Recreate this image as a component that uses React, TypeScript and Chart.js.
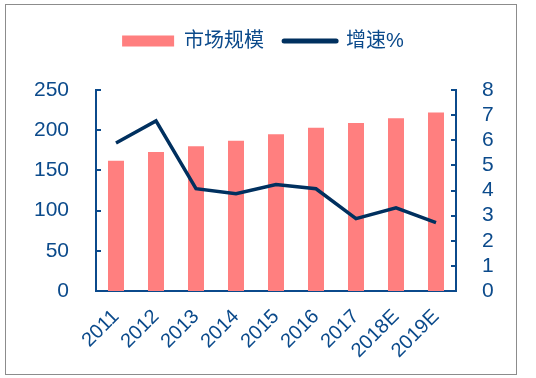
import React, { useEffect, useRef } from 'react';
import { Chart, registerables } from 'chart.js';

Chart.register(...registerables);

const categories = ['2011', '2012', '2013', '2014', '2015', '2016', '2017', '2018E', '2019E'];
const marketSize = [162, 173, 180, 187, 195, 203, 209, 215, 222];
const growthRate = [5.89, 6.77, 4.07, 3.87, 4.24, 4.07, 2.88, 3.31, 2.72];
const seriesNames = ['市场规模', '增速%'];
const leftAxisMax = 250;
const leftAxisStep = 50;
const rightAxisMax = 8;
const rightAxisStep = 1;

const AXIS = '#0B4A8B';
const TEXT = '#0B4A8B';
const BAR = '#FF7F7F';
const LINE = '#00305F';
const FONT = "'Liberation Sans', 'Noto Sans CJK SC', Arial, sans-serif";

const innerTicks = {
  id: 'innerTicks',
  afterDraw(chart: any) {
    const { ctx, chartArea } = chart;
    const yl = chart.scales.y;
    const yr = chart.scales.y1;
    ctx.save();
    ctx.strokeStyle = AXIS;
    ctx.lineWidth = 2;
    yl.ticks.forEach((t: any) => {
      const y = Math.round(yl.getPixelForValue(t.value));
      ctx.beginPath();
      ctx.moveTo(chartArea.left, y);
      ctx.lineTo(chartArea.left + 5, y);
      ctx.stroke();
    });
    yr.ticks.forEach((t: any) => {
      const y = Math.round(yr.getPixelForValue(t.value));
      ctx.beginPath();
      ctx.moveTo(chartArea.right - 5, y);
      ctx.lineTo(chartArea.right, y);
      ctx.stroke();
    });
    ctx.restore();
  },
};

export default function App() {
  const ref = useRef<HTMLCanvasElement>(null);

  useEffect(() => {
    if (!ref.current) return;
    const chart = new Chart(ref.current, {
      type: 'bar',
      data: {
        labels: categories,
        datasets: [
          {
            type: 'bar',
            label: seriesNames[0],
            data: marketSize,
            backgroundColor: BAR,
            yAxisID: 'y',
            barPercentage: 0.4,
            categoryPercentage: 1,
            order: 2,
          } as any,
          {
            type: 'line',
            label: seriesNames[1],
            data: growthRate,
            borderColor: LINE,
            backgroundColor: LINE,
            borderWidth: 3.5,
            pointRadius: 0,
            tension: 0,
            yAxisID: 'y1',
            borderJoinStyle: 'miter',
            order: 1,
          } as any,
        ],
      },
      options: {
        responsive: false,
        animation: false,
        devicePixelRatio: 1,
        layout: { padding: { top: 11, left: 0, right: 10, bottom: 0 } },
        plugins: {
          tooltip: { enabled: false },
          title: {
            display: true,
            text: '',
            weight: 500,
            padding: 0,
            font: { size: 29, lineHeight: 1 },
          } as any,
          legend: {
            position: 'top',
            labels: {
              usePointStyle: true,
              pointStyleWidth: 52,
              boxHeight: 11,
              padding: 20,
              color: TEXT,
              font: { size: 20, family: FONT },
              generateLabels: () => [
                {
                  text: seriesNames[0],
                  fillStyle: BAR,
                  strokeStyle: BAR,
                  lineWidth: 0,
                  pointStyle: 'rect',
                  datasetIndex: 0,
                  hidden: false,
                  fontColor: TEXT,
                } as any,
                {
                  text: seriesNames[1],
                  fillStyle: LINE,
                  strokeStyle: LINE,
                  lineWidth: 5,
                  lineCap: 'round',
                  pointStyle: 'line',
                  datasetIndex: 1,
                  hidden: false,
                  fontColor: TEXT,
                } as any,
              ],
            },
          },
        },
        scales: {
          x: {
            grid: { display: false },
            border: { display: true, color: AXIS, width: 2 },
            ticks: {
              color: TEXT,
              font: { size: 20, family: FONT },
              minRotation: 45,
              maxRotation: 45,
              autoSkip: false,
              padding: 6,
            },
            afterFit: (s: any) => {
              s.height = 87;
            },
          },
          y: {
            position: 'left',
            min: 0,
            max: leftAxisMax,
            grid: { display: false },
            border: { display: true, color: AXIS, width: 2 },
            ticks: {
              stepSize: leftAxisStep,
              autoSkip: false,
              color: TEXT,
              font: { size: 21, family: FONT },
              padding: 19,
            },
            afterFit: (s: any) => {
              s.width = 96;
            },
          },
          y1: {
            position: 'right',
            min: 0,
            max: rightAxisMax,
            grid: { display: false },
            border: { display: true, color: AXIS, width: 2 },
            ticks: {
              stepSize: rightAxisStep,
              autoSkip: false,
              color: TEXT,
              font: { size: 21, family: FONT },
              padding: 18,
            },
            afterFit: (s: any) => {
              s.width = 70;
            },
          },
        },
      } as any,
      plugins: [innerTicks],
    });
    return () => chart.destroy();
  }, []);

  return (
    <>
      <canvas
        ref={ref}
        width={536}
        height={378}
        style={{ position: 'fixed', left: 0, top: 0, width: 536, height: 378, display: 'block' }}
      />
      <div
        style={{
          position: 'fixed',
          left: 5,
          top: 4,
          width: 512,
          height: 371,
          boxSizing: 'border-box',
          border: '1px solid #8C8C8C',
          pointerEvents: 'none',
        }}
      />
    </>
  );
}
